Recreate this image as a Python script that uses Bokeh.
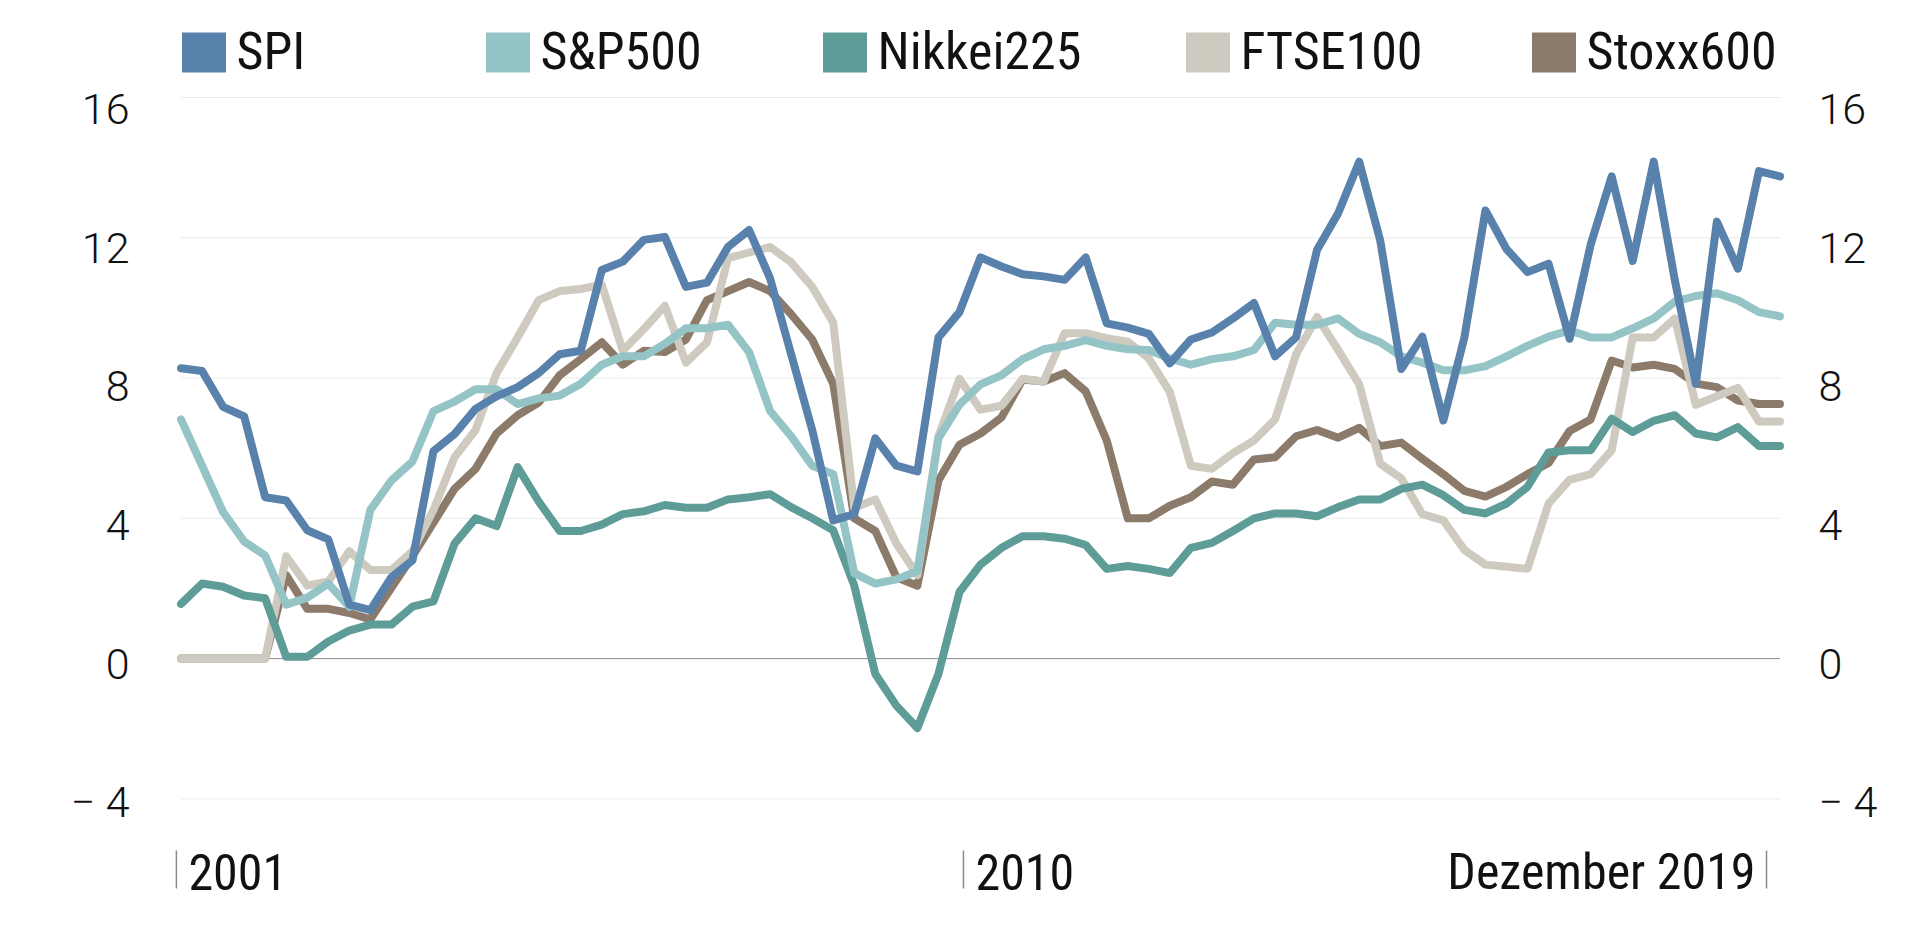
from bokeh.plotting import figure
from bokeh.models import Range1d, LinearAxis, FixedTicker, Legend, LegendItem
from bokeh.core.properties import value
from bokeh.embed import file_html
from bokeh.resources import INLINE

# ---------------- data (quarterly points, 2001 .. Dezember 2019) ----------------
series_names = ["SPI", "S&P500", "Nikkei225", "FTSE100", "Stoxx600"]
series_colors = ["#5881AC", "#94C4C6", "#5E9C98", "#CFCAC0", "#8C7B6A"]

spi = [8.28, 8.20, 7.18, 6.91, 4.60, 4.51, 3.66, 3.40, 1.54, 1.38, 2.32, 2.80, 5.92, 6.40, 7.12, 7.48,
       7.74, 8.14, 8.68, 8.78, 11.08, 11.32, 11.94, 12.02, 10.60, 10.72, 11.74, 12.22, 10.84, 8.68, 6.52, 3.94,
       4.12, 6.28, 5.50, 5.34, 9.16, 9.88, 11.44, 11.18, 10.96, 10.90, 10.80, 11.44, 9.56, 9.44, 9.26, 8.42,
       9.10, 9.30, 9.70, 10.14, 8.62, 9.16, 11.66, 12.70, 14.17, 11.92, 8.26, 9.18, 6.79, 9.16, 12.78, 11.68,
       11.02, 11.26, 9.12, 11.80, 13.75, 11.34, 14.17, 10.80, 7.84, 12.46, 11.12, 13.90, 13.75]
sp500 = [6.82, 5.50, 4.18, 3.34, 2.94, 1.54, 1.74, 2.14, 1.48, 4.24, 5.08, 5.62, 7.06, 7.33, 7.68, 7.68,
         7.26, 7.42, 7.50, 7.84, 8.38, 8.62, 8.62, 8.98, 9.42, 9.42, 9.52, 8.74, 7.06, 6.34, 5.50, 5.26,
         2.44, 2.14, 2.26, 2.50, 6.28, 7.24, 7.82, 8.08, 8.54, 8.82, 8.92, 9.08, 8.92, 8.82, 8.80, 8.56,
         8.38, 8.54, 8.62, 8.80, 9.58, 9.52, 9.52, 9.70, 9.26, 9.02, 8.62, 8.44, 8.22, 8.22, 8.34, 8.62,
         8.92, 9.18, 9.36, 9.16, 9.16, 9.42, 9.70, 10.18, 10.34, 10.42, 10.22, 9.88, 9.76]
nikkei = [1.56, 2.14, 2.05, 1.80, 1.72, 0.05, 0.05, 0.49, 0.80, 0.97, 0.97, 1.48, 1.63, 3.28, 4.00, 3.78,
          5.46, 4.48, 3.64, 3.64, 3.82, 4.12, 4.20, 4.38, 4.30, 4.30, 4.54, 4.60, 4.69, 4.32, 4.00, 3.66,
          2.08, -0.44, -1.34, -1.98, -0.44, 1.90, 2.68, 3.16, 3.49, 3.49, 3.42, 3.24, 2.56, 2.64, 2.56, 2.44,
          3.16, 3.30, 3.64, 4.00, 4.14, 4.14, 4.06, 4.32, 4.54, 4.54, 4.84, 4.96, 4.66, 4.24, 4.14, 4.42,
          4.90, 5.88, 5.94, 5.94, 6.84, 6.46, 6.78, 6.94, 6.42, 6.31, 6.60, 6.06, 6.06]
ftse = [0.0, 0.0, 0.0, 0.0, 0.0, 2.92, 2.08, 2.20, 3.06, 2.53, 2.53, 3.06, 4.24, 5.74, 6.52, 8.14,
        9.16, 10.22, 10.48, 10.54, 10.66, 8.78, 9.40, 10.06, 8.44, 9.02, 11.42, 11.58, 11.74, 11.30, 10.60, 9.58,
        4.30, 4.54, 3.28, 2.38, 6.34, 7.98, 7.10, 7.21, 7.98, 7.90, 9.28, 9.28, 9.14, 9.04, 8.56, 7.60,
        5.50, 5.41, 5.86, 6.22, 6.82, 8.68, 9.74, 8.80, 7.82, 5.56, 5.14, 4.12, 3.94, 3.10, 2.68, 2.62,
        2.56, 4.42, 5.10, 5.26, 5.94, 9.16, 9.16, 9.70, 7.24, 7.48, 7.72, 6.76, 6.76]
stoxx = [0.0, 0.0, 0.0, 0.0, 0.0, 2.38, 1.42, 1.42, 1.30, 1.12, 2.02, 2.92, 3.88, 4.84, 5.41, 6.42,
         6.94, 7.30, 8.08, 8.54, 9.02, 8.38, 8.78, 8.74, 9.10, 10.22, 10.48, 10.74, 10.48, 9.82, 9.10, 7.84,
         4.00, 3.64, 2.32, 2.08, 5.08, 6.10, 6.42, 6.88, 7.96, 7.90, 8.14, 7.62, 6.22, 4.00, 4.00, 4.36,
         4.60, 5.05, 4.96, 5.68, 5.74, 6.34, 6.52, 6.30, 6.58, 6.06, 6.16, 5.70, 5.26, 4.78, 4.62, 4.90,
         5.26, 5.58, 6.49, 6.82, 8.50, 8.30, 8.38, 8.26, 7.84, 7.74, 7.36, 7.26, 7.26]

quarter_index = list(range(len(spi)))

y_ticks = [-4, 0, 4, 8, 12, 16]
y_tick_labels = {-4: "\u2212 4", 0: "0", 4: "4", 8: "8", 12: "12", 16: "16"}

x_tick_pos = [-0.22, 37.19, 75.36]
x_tick_labels = ["2001", "2010", "Dezember 2019"]

# ---------------- layout ----------------
FRAME_W, FRAME_H = 1620, 920
FRAME_LEFT = 170
PPU = 35.07                    # pixels per y unit
Y_TOP = 16 + 97 / PPU          # value at top of frame
Y_BOT = Y_TOP - FRAME_H / PPU
# tick labels in the original sit slightly below their grid lines
LAB_PPU = PPU - 0.4
LAB_TOP = (Y_TOP * PPU + 5) / LAB_PPU
LAB_BOT = LAB_TOP - FRAME_H / LAB_PPU
COND_FONT = "'Roboto Condensed', 'Roboto Light', Roboto, sans-serif"


def y_at(px):
    return Y_TOP - px / PPU


p = figure(frame_width=FRAME_W, frame_height=FRAME_H,
           x_range=Range1d(-0.5, 76.5), y_range=Range1d(Y_BOT, Y_TOP),
           x_axis_location=None, y_axis_location=None,
           min_border_left=FRAME_LEFT, min_border_right=60, min_border_top=0, min_border_bottom=0,
           output_backend="svg", toolbar_location=None)
p.extra_y_ranges = {"labels": Range1d(LAB_BOT, LAB_TOP)}
p.outline_line_color = None
p.xgrid.visible = False
p.ygrid.visible = False
p.background_fill_color = "white"
p.border_fill_color = "white"

# grid lines across the data extent
first_x, last_x = quarter_index[0], quarter_index[-1]
grid_vals = [v for v in y_ticks if v != 0]
p.segment(x0=[first_x] * len(grid_vals), x1=[last_x] * len(grid_vals), y0=grid_vals, y1=grid_vals,
          line_color="#EAEAEA", line_width=1)
p.segment(x0=[first_x], x1=[last_x], y0=[0], y1=[0], line_color="#8A8A8A", line_width=1)

# axes
for side, standoff in (("left", 35), ("right", 22)):
    ax = LinearAxis(ticker=FixedTicker(ticks=y_ticks), major_label_overrides=y_tick_labels,
                    y_range_name="labels")
    ax.axis_line_color = None
    ax.major_tick_line_color = None
    ax.minor_tick_line_color = None
    ax.major_label_standoff = standoff
    ax.major_label_text_font = "Roboto Light"
    ax.major_label_text_font_size = "43px"
    ax.major_label_text_color = "#111111"
    p.add_layout(ax, side)

# lines (drawn from back to front)
data = [spi, sp500, nikkei, ftse, stoxx]
for k in [4, 3, 2, 1, 0]:
    p.line(quarter_index, data[k], line_color=series_colors[k], line_width=8,
           line_join="round", line_cap="round")

# x labels with small bars
p.segment(x0=x_tick_pos, x1=x_tick_pos, y0=[y_at(850)] * 3, y1=[y_at(888)] * 3,
          line_color="#8A8A8A", line_width=1.5)
lab_font = value(COND_FONT)
p.text(x=x_tick_pos[:2], y=[y_at(871)] * 2, text=x_tick_labels[:2], text_align="left",
       text_baseline="alphabetic", x_offset=12, text_font=lab_font, text_font_size="50px",
       text_color="#111111")
p.text(x=x_tick_pos[2:], y=[y_at(871)], text=x_tick_labels[2:], text_align="right",
       text_baseline="alphabetic", x_offset=-11, text_font=lab_font, text_font_size="50px",
       text_color="#111111")

# legend: one item each, placed across the top (area swatches are inset by 10%)
GW, GH = 55, 50
box_left = [181, 485, 822, 1185, 1531]
for k, name in enumerate(series_names):
    r = p.quad(left=[first_x], right=[first_x], top=[0], bottom=[0],
               fill_color=series_colors[k], line_color=None)
    lg = Legend(items=[LegendItem(label=name, renderers=[r])],
                location=(box_left[k] - FRAME_LEFT - GW * 0.1, FRAME_H - 82),
                orientation="horizontal", glyph_width=GW, glyph_height=GH, label_standoff=6,
                padding=0, margin=0, spacing=0, border_line_color=None, background_fill_alpha=0,
                label_text_font=COND_FONT, label_text_font_size="52px",
                label_text_color="#111111", label_height=GH)
    p.add_layout(lg, "center")

open("out.html", "w").write(file_html(p, INLINE))
